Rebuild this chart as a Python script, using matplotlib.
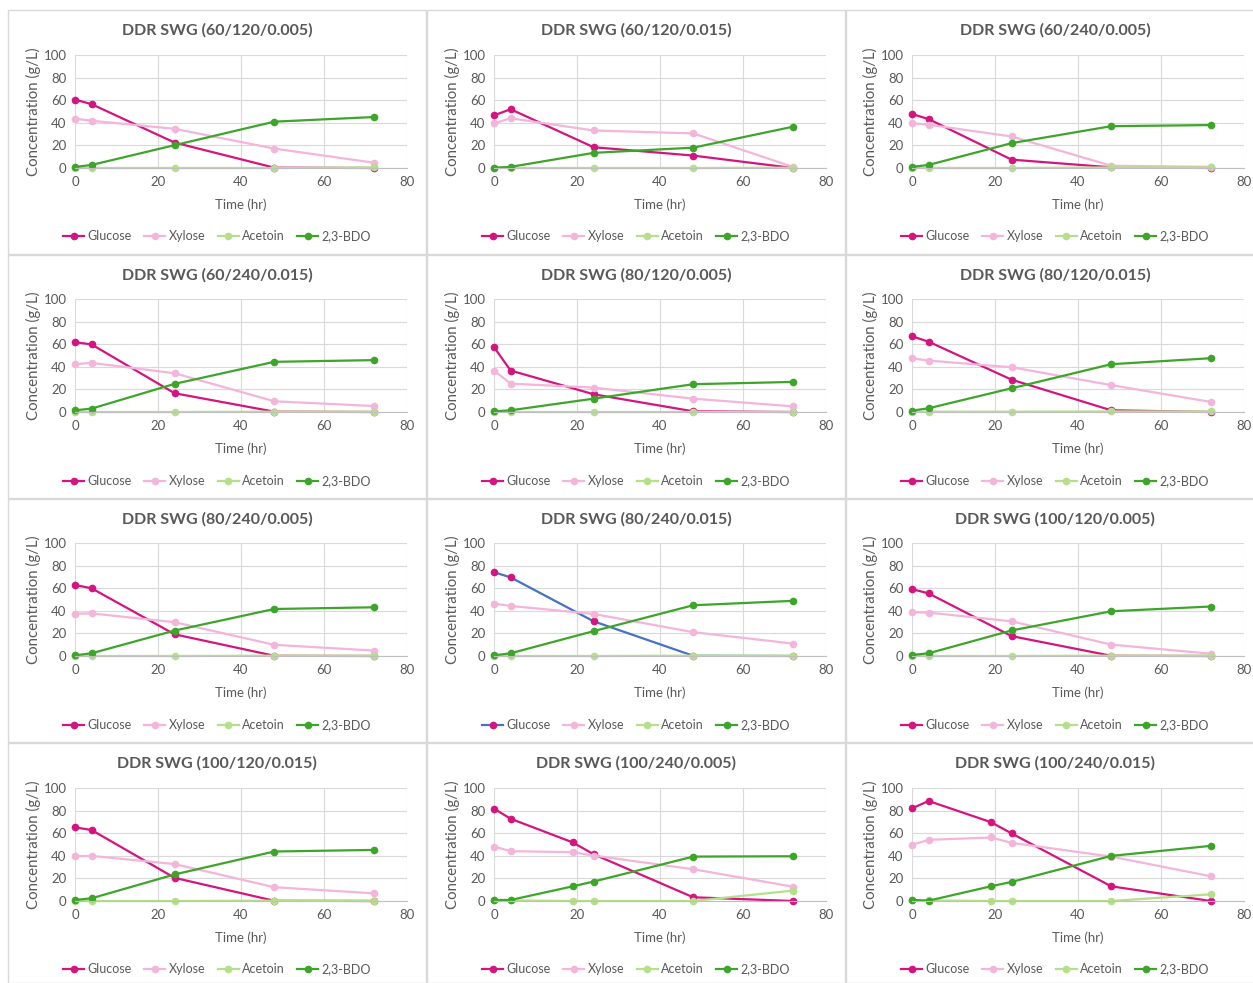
import matplotlib
matplotlib.use("Agg")
import matplotlib.pyplot as plt
from matplotlib.patches import Rectangle

W, H = 1253, 983

titles = ["DDR SWG (60/120/0.005)", "DDR SWG (60/120/0.015)", "DDR SWG (60/240/0.005)",
          "DDR SWG (60/240/0.015)", "DDR SWG (80/120/0.005)", "DDR SWG (80/120/0.015)",
          "DDR SWG (80/240/0.005)", "DDR SWG (80/240/0.015)", "DDR SWG (100/120/0.005)",
          "DDR SWG (100/120/0.015)", "DDR SWG (100/240/0.005)", "DDR SWG (100/240/0.015)"]

time_std = [0, 4, 24, 48, 72]
time_ext = [0, 4, 19, 24, 48, 72]
times = [time_std] * 10 + [time_ext, time_ext]

glucose = [
    [60.5, 56.5, 22.5, 0.3, 0],
    [46.6, 52, 18.4, 11, 0],
    [47.8, 43.3, 7.4, 0.6, 0],
    [61.8, 59.8, 16.6, 0.3, 0],
    [57.4, 36.7, 15.7, 0.6, 0],
    [67, 62.2, 28.6, 1.5, 0],
    [62.9, 59.9, 19.2, 0.2, 0],
    [74.1, 69.6, 30.7, 0.2, 0],
    [59.2, 55.4, 17.6, 0.2, 0],
    [65.2, 62.8, 20.5, 0.2, 0],
    [81.7, 72.8, 51.8, 41.4, 3.3, 0],
    [82, 88.5, 69.8, 59.8, 13, 0],
]
xylose = [
    [43.6, 41.8, 34.7, 17.2, 4.7],
    [39.5, 44, 33.2, 30.6, 1],
    [39.8, 38.3, 27.9, 2, 1],
    [42.3, 43.5, 34.3, 9.5, 5.3],
    [36.7, 25.1, 21.6, 11.8, 5],
    [47.6, 45.5, 39.6, 23.8, 8.9],
    [37.4, 37.7, 29.9, 9.9, 4.8],
    [46.4, 44.3, 37.2, 21.1, 11],
    [38.7, 38.4, 30.7, 10.1, 2],
    [39.6, 39.9, 32.7, 12.2, 6.8],
    [48.2, 44.1, 43.2, 40.2, 28.1, 12.7],
    [49.7, 54.1, 56.2, 51.5, 39.3, 21.9],
]
acetoin = [
    [0, 0, 0, 0, 0.5],
    [0, 0, 0, 0, 0.3],
    [0, 0, 0, 0.5, 0.5],
    [0, 0, 0, 0.3, 0.3],
    [0, 0, 0, 0, 0],
    [0.3, 0.3, 0.3, 0.5, 0.5],
    [0, 0, 0, 0.3, 0.3],
    [0, 0, 0, 0.3, 0.3],
    [0, 0, 0, 0.3, 0.3],
    [0, 0, 0, 0.3, 0.3],
    [0.5, 0.5, 0, 0, 0, 9.2],
    [0.5, 0.5, 0, 0, 0, 5.9],
]
bdo = [
    [0.9, 2.7, 20.2, 41, 45.1],
    [0.3, 1, 13.4, 18, 36.5],
    [1, 2.7, 22, 37, 38],
    [1.5, 3, 24.9, 44.4, 45.9],
    [0.6, 1.5, 11.8, 24.6, 26.6],
    [1.2, 3.3, 21, 42.3, 47.6],
    [0.6, 2.4, 22.5, 41.6, 43.1],
    [0.6, 2.4, 22, 44.9, 48.8],
    [0.9, 2.4, 22.6, 39.6, 43.8],
    [0.9, 2.4, 23.5, 43.8, 45.2],
    [0.9, 0.9, 13, 17.2, 39.3, 39.6],
    [0.9, 0.3, 13, 16.9, 39.9, 48.8],
]
series_names = ["Glucose", "Xylose", "Acetoin", "2,3-BDO"]
x_ticks = [0, 20, 40, 60, 80]
y_ticks = [0, 20, 40, 60, 80, 100]

C_GLU = "#D4147F"
C_XYL = "#F3B5D9"
C_ACE = "#B6DF8C"
C_BDO = "#3DA52A"
C_BLUE = "#4472C4"
TXT = "#595959"
GRID = "#D9D9D9"

plt.rcParams["font.family"] = ["Lato", "DejaVu Sans"]

fig = plt.figure(figsize=(W / 100, H / 100), dpi=100)
fig.patch.set_facecolor("white")

x0s = [75, 494, 912]
plot_w = 332
y100s = [55, 299, 543, 788]
plot_h = 113
frame_x = [8, 427, 846]
frame_w = [418, 418, 410]
frame_y = [10, 255, 499, 743]
frame_h = [244, 243, 243, 240]

def fx(px):
    return px / W

def fy(py):
    return 1 - py / H

for i in range(12):
    r, c = divmod(i, 3)
    fig.add_artist(Rectangle((fx(frame_x[c]), fy(frame_y[r] + frame_h[r])),
                             frame_w[c] / W, frame_h[r] / H, transform=fig.transFigure,
                             fill=False, ec="#D9D9D9", lw=1.0))
    ax = fig.add_axes([fx(x0s[c]), fy(y100s[r] + plot_h), plot_w / W, plot_h / H])
    ax.set_xlim(0, 80)
    ax.set_ylim(0, 100)
    ax.set_xticks(x_ticks)
    ax.set_yticks(y_ticks)
    ax.grid(True, color=GRID, lw=0.8)
    ax.set_axisbelow(True)
    for s in ["top", "right", "left"]:
        ax.spines[s].set_visible(False)
    ax.spines["bottom"].set_color("#BFBFBF")
    ax.spines["bottom"].set_linewidth(0.8)
    ax.tick_params(length=0, labelsize=9.5, colors=TXT, pad=6)
    ax.set_xlabel("Time (hr)", fontsize=9.5, color=TXT, labelpad=7)
    ax.set_ylabel("Concentration (g/L)", fontsize=10.8, color=TXT, labelpad=2)

    t = times[i]
    glu_line = C_BLUE if i == 7 else C_GLU
    kw = dict(lw=1.6, marker="o", ms=4.5, clip_on=False)
    ax.plot(t, glucose[i], color=glu_line, mfc=C_GLU, mec=C_GLU, label=series_names[0], **kw)
    ax.plot(t, xylose[i], color=C_XYL, mfc=C_XYL, mec=C_XYL, label=series_names[1], **kw)
    ax.plot(t, acetoin[i], color=C_ACE, mfc=C_ACE, mec=C_ACE, label=series_names[2], **kw)
    ax.plot(t, bdo[i], color=C_BDO, mfc=C_BDO, mec=C_BDO, label=series_names[3], **kw)

    cx = frame_x[c] + 418 / 2
    fig.text(fx(cx), fy(frame_y[r] + 20), titles[i], ha="center", va="center",
             fontsize=11.5, fontweight="bold", color=TXT)

    handles, labels = ax.get_legend_handles_labels()
    fig.legend(handles, labels, loc="center", ncol=4, frameon=False,
               bbox_to_anchor=(fx(cx), fy(frame_y[r] + 226)),
               fontsize=9, labelcolor=TXT, handlelength=1.7, handletextpad=0.25,
               columnspacing=1.0, markerscale=1.0)

fig.savefig("out.png", dpi=100, facecolor="white")
